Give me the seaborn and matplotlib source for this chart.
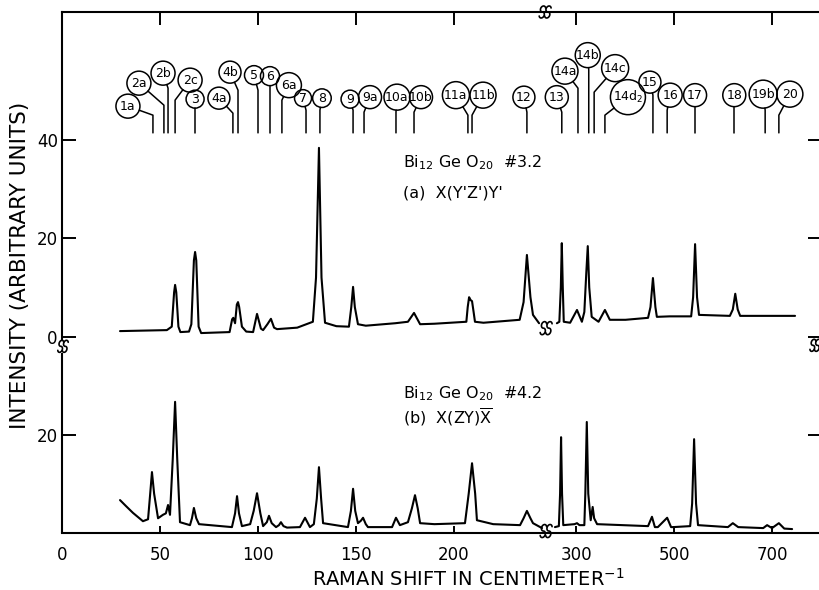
import numpy as np
import pandas as pd
import matplotlib
matplotlib.use("Agg")
import matplotlib.pyplot as plt
import matplotlib.transforms as mtransforms
from matplotlib.lines import Line2D
from matplotlib.patches import Circle
import seaborn as sns

# ---------------- spectra (Raman shift in cm^-1, intensity in arbitrary units) ----------------
# (a) Bi12GeO20 #3.2, X(Y'Z')Y'
shift_a = [29.6, 53.5, 56.0, 57.2, 57.7, 58.3, 59.4, 60.4, 64.8, 66.0, 67.3, 67.9, 68.5, 69.7,
           71.0, 85.5, 86.8, 87.4, 88.3, 89.2, 89.8, 90.4, 91.8, 94.0, 97.5, 99.5, 101.5, 102.6,
           104.8, 106.6, 108.2, 109.7, 120.0, 128.0, 129.6, 131.1, 132.4, 134.2, 140.0, 146.4,
           147.6, 148.5, 149.4, 151.0, 155.0, 170.0, 176.5, 179.6, 182.7, 190.0, 206.3, 207.0,
           207.7, 208.5, 209.2, 210.0, 210.7, 215.0, 233.5, 235.5, 237.2, 239.0, 240.3, 243.4,
           260, 265, 268, 270, 272, 274, 287, 301, 311, 316, 320, 323, 326, 331, 345, 358, 368,
           400, 446, 451, 456, 461, 464, 490, 534, 538, 542, 546, 550, 613, 619, 624, 629, 634, 746]
intensity_a = [1.1, 1.3, 2.0, 9.0, 10.5, 9.0, 2.0, 0.9, 1.0, 2.5, 15.5, 17.2, 15.5, 2.0,
               0.7, 0.9, 3.5, 3.8, 2.7, 6.5, 7.0, 6.0, 2.0, 1.0, 0.9, 4.6, 1.6, 1.3,
               2.5, 3.6, 1.8, 1.5, 1.8, 3.0, 12.0, 38.4, 12.0, 2.8, 2.1, 2.0,
               6.0, 10.1, 6.0, 2.5, 2.2, 2.7, 3.0, 4.8, 2.5, 2.6, 3.0, 6.0,
               8.0, 7.4, 7.2, 5.0, 3.0, 2.8, 3.4, 7.0, 16.6, 8.0, 4.4, 2.7,
               2.7, 3.0, 10.0, 19.0, 10.0, 3.0, 2.8, 5.4, 3.0, 5.0, 13.0, 18.4, 10.0, 4.0, 3.0, 5.4, 3.4,
               3.4, 3.8, 6.0, 11.9, 6.0, 4.0, 4.1, 4.1, 8.0, 18.8, 8.0, 4.4, 4.2, 5.5, 8.7, 5.5, 4.2, 4.2]

# (b) Bi12GeO20 #4.2, X(ZY)X-bar
shift_b = [29.6, 32.6, 36.2, 41.3, 43.9, 45.0, 45.9, 47.0, 49.0, 51.5, 53.0, 54.1, 55.1, 56.5,
           57.7, 58.8, 60.2, 65.3, 66.3, 67.3, 68.5, 69.9, 86.7, 88.3, 89.3, 90.3, 91.8, 96.0,
           97.8, 99.5, 101.2, 102.6, 104.5, 105.6, 107.0, 109.2, 110.7, 111.7, 113.0, 114.8,
           121.4, 124.0, 126.5, 128.5, 130.0, 131.1, 132.2, 133.2, 145.9, 147.4, 148.5, 149.6,
           151.0, 152.5, 153.6, 155.0, 156.1, 168.4, 170.4, 172.4, 176.5, 178.5, 180.1, 181.5,
           182.7, 190.0, 205.6, 207.5, 209.2, 210.8, 211.7, 220.0, 233.7, 235.5, 237.2, 239.0,
           240.3, 244.9,
           256, 264, 266.5, 268.5, 270.5, 273, 296, 301, 306, 316, 318, 321, 324, 329, 333, 336,
           342, 446, 454, 460, 466, 485, 493, 497, 532, 536, 540, 544, 548, 609, 619, 630, 681,
           689, 699, 713, 724, 740]
intensity_b = [6.7, 5.5, 4.1, 2.4, 2.8, 8.0, 12.4, 8.0, 3.0, 3.7, 4.0, 5.7, 3.7, 15.0,
               26.7, 15.0, 2.2, 1.6, 3.0, 5.1, 3.0, 1.8, 1.2, 4.0, 7.5, 4.0, 1.4, 1.8,
               4.5, 8.1, 4.0, 1.4, 2.2, 3.5, 2.0, 1.2, 1.6, 2.2, 1.4, 1.1,
               1.2, 3.1, 1.2, 1.8, 7.0, 13.4, 7.0, 2.0, 1.2, 4.5, 9.0, 4.5,
               2.0, 2.5, 3.1, 1.8, 1.2, 1.2, 3.1, 1.6, 2.2, 5.0, 7.7, 5.0,
               2.0, 1.8, 2.0, 8.0, 14.2, 8.0, 2.6, 1.8, 1.6, 3.0, 4.5, 3.0,
               2.0, 1.0,
               1.2, 1.4, 8.0, 19.5, 8.0, 1.6, 1.8, 2.0, 1.6, 1.6, 8.0, 22.6, 8.0, 2.6, 5.3, 3.0,
               1.8, 1.4, 3.3, 1.2, 1.2, 3.1, 1.2, 1.2, 1.4, 6.0, 19.1, 6.0, 1.6, 1.2, 2.0, 1.2, 1.0,
               1.6, 1.0, 2.0, 0.9, 0.8]

# Mode assignments marked above the spectra
mode_labels = ["1a", "2a", "2b", "2c", "3", "4a", "4b", "5", "6", "6a", "7", "8", "9", "9a",
               "10a", "10b", "11a", "11b", "12", "13", "14a", "14b", "14c", "14d$_2$", "15",
               "16", "17", "18", "19b", "20"]
mode_shifts = [46.4, 52.0, 54.1, 57.7, 67.9, 87.2, 89.8, 100.0, 106.1, 112.2, 124.5, 131.6,
               148.5, 154.1, 170.4, 179.6, 207.1, 209.2, 237.2, 270, 303, 325, 336, 358, 456,
               485, 542, 622, 685, 713]

xtick_values = [0, 50, 100, 150, 200, 300, 500, 700]
ytick_positions = [20, 40, 60, 80]
ytick_labels = ["20", "0", "20", "40"]
trace_a_offset = 40  # trace (a) is stacked 40 units above trace (b)

sample_a = [r"Bi$_{12}$ Ge O$_{20}$  #3.2", "(a)  X(Y'Z')Y'"]
sample_b = [r"Bi$_{12}$ Ge O$_{20}$  #4.2", r"(b)  X(ZY)$\overline{\mathrm{X}}$"]

# Label circle layout, in pixels relative to the top of each mode mark:
# (dx, dy, radius, height of the leader's elbow)
label_layout = [(-25, 9, 12, 0), (-25, 32, 12, 10), (-5, 42, 12, 27), (15, 35, 12, 15),
                (0, 16, 9, 5), (-14, 17, 11, 2), (-8, 43, 11, 25), (-4, 40, 9.5, 25),
                (0, 39, 9.5, 25), (7, 30, 12.5, 15), (-3, 17, 8.5, 5), (2, 17, 9.3, 5),
                (-3, 16, 9, 5), (6, 18, 11.5, 3), (1, 18, 13, 3), (7, 18, 11.5, 3),
                (-12, 20, 13.5, 0), (11, 20, 13, 0), (-3, 18, 11, 3), (-5, 18, 11.5, 3),
                (-13, 44, 13, 27), (-1, 60, 12.5, 45), (21, 47, 13.5, 23), (23, 18, 17.5, 0),
                (-3, 33, 11, 20), (3, 20, 12, 5), (0, 20, 11.5, 5), (0, 20, 11.5, 5),
                (-2, 21, 14, 5), (11, 21, 13, 0)]

# ---------------- broken x axis: linear to 250, compressed 4x above ----------------
X_BREAK = 250.0
X_COMPRESS = 4.0
X_GAP = 246.5  # where the break symbols sit


def x_forward(v):
    v = np.asarray(v, dtype=float)
    return np.where(v <= X_BREAK, v, X_BREAK + (v - X_BREAK) / X_COMPRESS)


def x_inverse(p):
    p = np.asarray(p, dtype=float)
    return np.where(p <= X_BREAK, p, X_BREAK + (p - X_BREAK) * X_COMPRESS)


sns.set_theme(style="white")
plt.rcParams["font.family"] = ["DejaVu Sans"]
plt.rcParams["mathtext.fontset"] = "dejavusans"

W, H = 820, 590
fig = plt.figure(figsize=(W / 100, H / 100), dpi=100)
ax = fig.add_axes([62 / W, 57 / H, 760 / W, 521 / H])

frames = []
for name, xs, ys, off in (("a", shift_a, intensity_a, trace_a_offset),
                          ("b", shift_b, intensity_b, 0)):
    d = pd.DataFrame({"shift": xs, "level": np.asarray(ys, dtype=float) + off})
    d["piece"] = np.where(d["shift"] < X_GAP, name + "-low", name + "-high")
    frames.append(d)
spec = pd.concat(frames, ignore_index=True)

sns.lineplot(data=spec, x="shift", y="level", units="piece", estimator=None, sort=False,
             color="black", linewidth=1.5, ax=ax, legend=False)

ax.set_xscale("function", functions=(x_forward, x_inverse))
Y_TOP = 521 / 4.9125
ax.set_xlim(0, float(x_inverse(760 / 1.96)))
ax.set_ylim(0, Y_TOP)
ax.set_autoscale_on(False)

ax.set_xticks(xtick_values)
ax.set_xticklabels([str(v) for v in xtick_values])
ax.set_yticks(ytick_positions)
ax.set_yticklabels(ytick_labels)
ax.minorticks_off()
ax.tick_params(direction="in", width=1.4, color="black", labelcolor="black", labelsize=12,
               top=True, right=True, bottom=True, left=True)
ax.tick_params(axis="x", pad=9)
ax.tick_params(axis="y", length=10, pad=3)
for t in ax.xaxis.get_major_ticks():
    t.tick1line.set_markersize(5)
    t.tick2line.set_markersize(9)

for s in ax.spines.values():
    s.set_linewidth(1.5)
    s.set_color("black")
# left axis is interrupted between the two traces
ax.spines["left"].set_bounds(39.3, Y_TOP)
ax.plot([0, 0], [0, 36.6], transform=ax.get_yaxis_transform(), color="black",
        lw=1.5, clip_on=False, solid_capstyle="butt")

ax.set_xlabel(r"RAMAN SHIFT IN CENTIMETER$^{-1}$", fontsize=14, color="black")
ax.xaxis.set_label_coords(0.534, -0.088)
ax.xaxis.label.set_va("center")
ax.set_ylabel("INTENSITY (ARBITRARY UNITS)", fontsize=15.5, color="black")
ax.yaxis.set_label_coords(-0.055, 0.514)
ax.yaxis.label.set_va("center")

for lines, y0, y1 in ((sample_a, 0.7025, 0.643), (sample_b, 0.259, 0.211)):
    ax.text(0.4487, y0, lines[0], transform=ax.transAxes, fontsize=11.5, va="baseline",
            color="black")
    ax.text(0.4487, y1, lines[1], transform=ax.transAxes, fontsize=11.5, va="baseline",
            color="black")

ident = mtransforms.IdentityTransform()


def break_glyph(cx, cy, h=13.0, w=5.0, sep=5.5, slant=2.5):
    """Two slanted S strokes marking an axis or trace break."""
    b = h / 4.0
    a = w / 2.0
    up = np.radians(np.linspace(20, 270, 30))
    lo = np.radians(np.linspace(90, -160, 30))
    xs_s = np.concatenate([a * np.cos(up), a * np.cos(lo)])
    ys_s = np.concatenate([b + b * np.sin(up), -b + b * np.sin(lo)])
    for k in (-0.5, 0.5):
        xs = cx + k * sep + xs_s + slant * ys_s / h
        ys = cy + ys_s
        fig.add_artist(Line2D(xs, ys, transform=ident, color="black", lw=1.2))


gx = ax.transData.transform((X_GAP, 0))[0]
break_glyph(gx, ax.transAxes.transform((0, 1))[1], h=12)
break_glyph(gx + 1, ax.transData.transform((X_GAP, 41.7))[1])
break_glyph(gx + 1, ax.transData.transform((X_GAP, 0.4))[1])
lx, ly = ax.transData.transform((0, 38.0))
break_glyph(lx + 1, ly, h=12, w=4.5, sep=4.5)
rx = ax.transAxes.transform((0.991, 0))[0]
break_glyph(rx, ly + 1, h=12, w=4.5, sep=4.5)

# mode marks with circled labels
band = ax.get_xaxis_transform()
MARK_BOTTOM, MARK_TOP = 0.768, 0.802
for lab, shift, (dx, dy, r, kdy) in zip(mode_labels, mode_shifts, label_layout):
    mx, y_bot = band.transform((shift, MARK_BOTTOM))
    _, y_top = band.transform((shift, MARK_TOP))
    kx, ky = mx, y_top + kdy
    cx, cy = mx + dx, y_top + dy
    vx, vy = kx - cx, ky - cy
    n = np.hypot(vx, vy)
    sx, sy = cx + r * vx / n, cy + r * vy / n
    fig.add_artist(Line2D([sx, kx, mx], [sy, ky, y_bot], transform=ident, color="black",
                          lw=1.1))
    fig.add_artist(Circle((cx, cy), r, transform=ident, fill=False, ec="black", lw=1.1))
    fig.text(cx, cy, lab, transform=ident, ha="center", va="center", fontsize=9,
             color="black")

fig.savefig("out.png", dpi=100, facecolor="white")
